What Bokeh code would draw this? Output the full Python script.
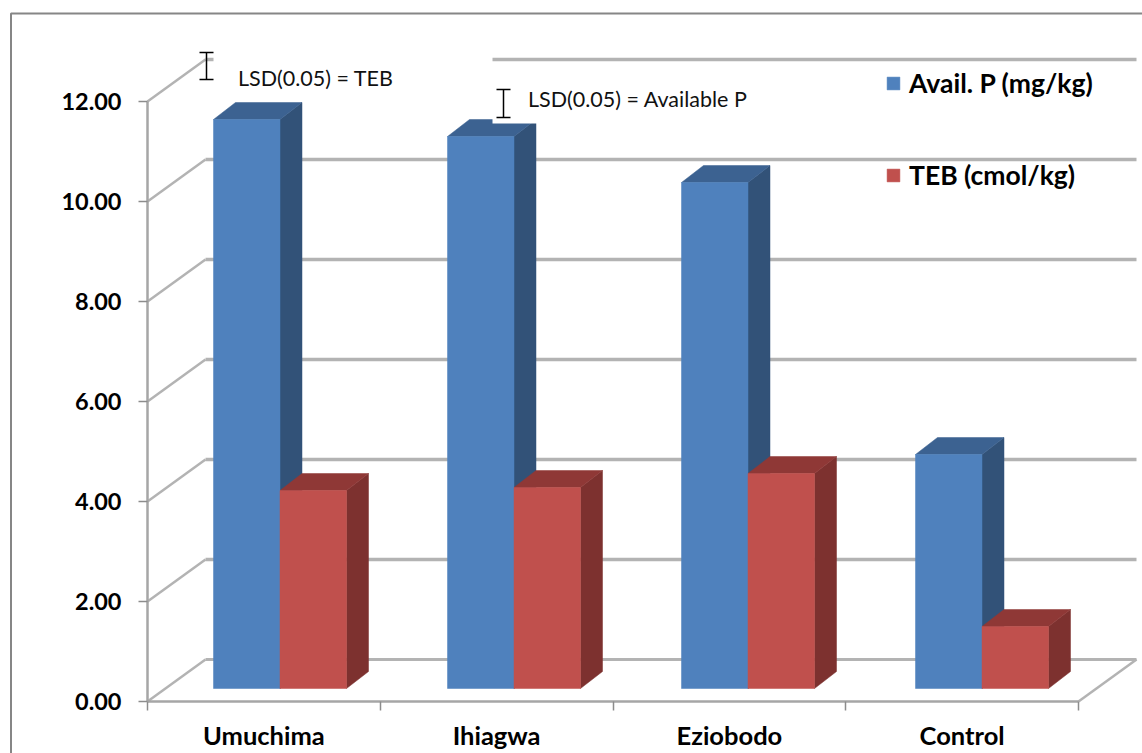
from bokeh.plotting import figure
from bokeh.models import LinearAxis, FixedTicker, NumeralTickFormatter, Legend, LegendItem
from bokeh.core.properties import value
from bokeh.embed import file_html
from bokeh.resources import INLINE

categories = ["Umuchima", "Ihiagwa", "Eziobodo", "Control"]
avail_p = [11.38, 11.04, 10.12, 4.68]
teb = [3.96, 4.02, 4.30, 1.24]
y_ticks = [0, 2, 4, 6, 8, 10, 12]
lsd_teb = 0.54
lsd_p = 0.56
series_names = ["Avail. P (mg/kg)", "TEB (cmol/kg)"]

W, H = 1142, 753
X0, Y0, XU, YU = 147.0, 701.0, 232.75, 50.0
def dx(px): return px / XU
def dy(px): return px / YU
def X(px): return (px - X0) / XU
def Y(py): return (Y0 - py) / YU

p = figure(width=W, height=H, output_backend="svg", toolbar_location=None,
           x_range=(X(0), X(W)), y_range=(Y(H), Y(0)),
           x_axis_type=None, y_axis_type=None, min_border=0,
           outline_line_color=None, background_fill_color="white", border_fill_color="white")
p.grid.visible = False

GRID = "#B3B3B3"
# outer frame
p.line([X(10.5), X(10.5), X(1142)], [Y(753), Y(13), Y(13)], line_color="#868686", line_width=2)

# wall grid + floor depth lines
BX, BY = dx(58), dy(42)
for t in y_ticks:
    p.line([0, BX], [t, t + BY], line_color=GRID, line_width=2.5)
    p.line([BX, 4 + BX], [t + BY, t + BY], line_color=GRID, line_width=3.5 if t else 3)
p.line([4, 4 + BX], [0, BY], line_color=GRID, line_width=2.5)

# bars
DX, DY = dx(22), dy(17)
BASE = dy(13)
OFF, BW, PITCH = dx(66), dx(66.5), dx(234)

def bars(vals, off, front, side, top):
    lefts = [i * PITCH + off for i in range(len(vals))]
    rights = [l + BW for l in lefts]
    tops = [v + BASE for v in vals]
    p.patches([[r, r + DX, r + DX, r] for r in rights],
              [[BASE, BASE + DY, t + DY, t] for t in tops],
              fill_color=side, line_color=side, line_width=0.5)
    p.patches([[l, l + DX, r + DX, r] for l, r in zip(lefts, rights)],
              [[t, t + DY, t + DY, t] for t in tops],
              fill_color=top, line_color=top, line_width=0.5)
    return p.quad(left=lefts, right=rights, bottom=BASE, top=tops,
                  fill_color=front, line_color=front, line_width=0.5)

r_blue = bars(avail_p, OFF, "#4F81BD", "#325278", "#3C6291")
r_red = bars(teb, OFF + BW, "#C0504D", "#7D312F", "#8F3836")

# white text boxes of the original
p.quad(left=[X(213), X(492)], right=[X(492), X(765)], top=[Y(48), Y(64)], bottom=[Y(68), Y(123)],
       fill_color="white", line_color=None)

# LSD markers
def ibar(xc, ybottom, h):
    c = dx(7)
    p.segment([xc, xc - c, xc - c], [ybottom, ybottom, ybottom + h],
              [xc, xc + c, xc + c], [ybottom + h, ybottom, ybottom + h],
              line_color="black", line_width=1.5)

ibar(X(206), Y(79), lsd_teb)
ibar(X(503), Y(117), lsd_p)
p.text([X(237.5)], [Y(77)], text=["LSD(0.05) = TEB"], text_font=value("Lato"),
       text_font_size="21.5px", text_baseline="middle", text_color="#111111")
p.text([X(527.5)], [Y(98)], text=["LSD(0.05) = Available P"], text_font=value("Lato"),
       text_font_size="21.5px", text_baseline="middle", text_color="#111111")

# axes
def style(ax):
    ax.axis_line_color = "#A6A6A6"
    ax.axis_line_width = 2.5
    ax.major_tick_line_color = "#8C8C8C"
    ax.major_tick_line_width = 1.5
    ax.major_tick_in = 0
    ax.major_tick_out = 9
    ax.minor_tick_line_color = None
    ax.major_label_text_font = "Lato"
    ax.major_label_text_font_style = "bold"
    ax.major_label_text_font_size = "23.5px"
    ax.major_label_text_color = "black"

ya = LinearAxis(ticker=FixedTicker(ticks=y_ticks), formatter=NumeralTickFormatter(format="0.00"),
                fixed_location=0, bounds=(0, 12))
style(ya)
ya.major_label_standoff = 17
p.add_layout(ya, "left")

xa = LinearAxis(ticker=FixedTicker(ticks=list(range(len(categories) + 1))), fixed_location=0,
                bounds=(0, len(categories)))
style(xa)
xa.major_label_text_color = None
p.add_layout(xa, "below")

centres = [i + 0.5 for i in range(len(categories))]
xl = LinearAxis(ticker=FixedTicker(ticks=centres), fixed_location=0, bounds=(0, len(categories)),
                major_label_overrides={c: n for c, n in zip(centres, categories)})
style(xl)
xl.axis_line_color = None
xl.major_tick_line_color = None
xl.major_tick_out = 0
xl.major_label_standoff = 18
xl.major_label_text_font_size = "25.5px"
p.add_layout(xl, "below")

legend = Legend(items=[LegendItem(label=series_names[0], renderers=[r_blue]),
                       LegendItem(label=series_names[1], renderers=[r_red])],
                location=(885, H - 191), orientation="vertical",
                glyph_width=16, glyph_height=16, label_height=16, label_standoff=8,
                spacing=60, padding=0, margin=0, background_fill_alpha=0, border_line_color=None,
                label_text_font="Lato", label_text_font_style="bold", label_text_font_size="26.5px",
                label_text_color="black", click_policy="none")
p.add_layout(legend, "center")

open("out.html", "w").write(file_html(p, INLINE))
